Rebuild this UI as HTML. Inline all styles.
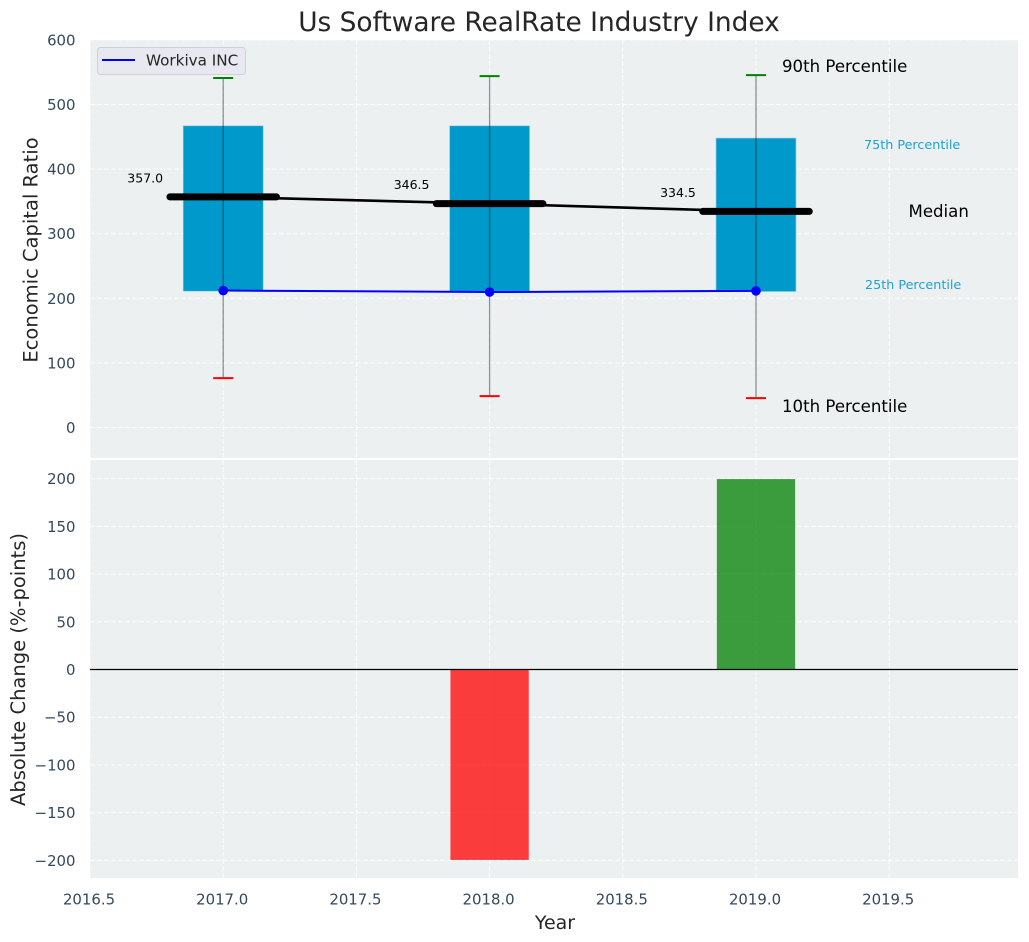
<!DOCTYPE html>
<html lang="en">
<head>
<meta charset="utf-8">
<title>Us Software RealRate Industry Index</title>
<style>
html,body{margin:0;padding:0;background:#fff;width:1029px;height:942px;overflow:hidden}
svg{display:block;font-family:"DejaVu Sans","Liberation Sans",sans-serif}
</style>
</head>
<body>
<svg id="chart" xmlns="http://www.w3.org/2000/svg" width="1029" height="942" viewBox="0 0 1029 942">
  <rect x="90" y="40" width="928" height="418" fill="#ecf0f1"/>
  <rect x="90" y="460" width="928" height="418" fill="#ecf0f1"/>
  <g id="grid"></g>
  <g id="marks"></g>
  <g id="ticks"></g>
  <text x="539" y="31" font-size="26.4" fill="#262626" text-anchor="middle">Us Software RealRate Industry Index</text>
  <text transform="translate(37.5 250) rotate(-90)" font-size="19.5" fill="#262626" text-anchor="middle">Economic Capital Ratio</text>
  <text transform="translate(25 669.500) rotate(-90)" font-size="19.5" fill="#262626" text-anchor="middle">Absolute Change (%-points)</text>
  <text x="555" y="929" font-size="19" fill="#262626" text-anchor="middle">Year</text>
  <text x="782" y="72" font-size="16.6" fill="#000">90th Percentile</text>
  <text x="864" y="149" font-size="12.75" fill="#1ba3d4">75th Percentile</text>
  <text x="908.500" y="217" font-size="16.6" fill="#000">Median</text>
  <text x="865" y="289" font-size="12.75" fill="#1ba3d4">25th Percentile</text>
  <text x="782" y="412" font-size="16.6" fill="#000">10th Percentile</text>
  <g>
    <rect x="97.500" y="47.500" width="148" height="27" rx="3" fill="#e8e9f0" stroke="#cfd1d6" stroke-width="1"/>
    <line x1="102" y1="60" x2="135" y2="60" stroke="#0000ff" stroke-width="2"/>
    <text x="146" y="65.500" font-size="15.2" fill="#262626">Workiva INC</text>
  </g>
</svg>
<script>
// Chart data
const years = [2017, 2018, 2019];
const p90 = [541, 544, 545.5];
const p75 = [467, 467, 448];
const median = [357.0, 346.5, 334.5];
const p25 = [211, 210, 210.5];
const p10 = [76.5, 48.5, 45.5];
const workiva = [212, 209.7, 211.5];
const absoluteChange = [0, -199.5, 199.5];
const xTicks = [2016.5, 2017.0, 2017.5, 2018.0, 2018.5, 2019.0, 2019.5];
const topYTicks = [0, 100, 200, 300, 400, 500, 600];
const bottomYTicks = [-200, -150, -100, -50, 0, 50, 100, 150, 200];

// Axis functions
const xScale = v => 223.2 + (v - 2017) * 266.4;
const topY = v => 427.5 - v * 0.646;
const bottomY = v => 669.5 - v * 0.9545;

const NS = 'http://www.w3.org/2000/svg';
const gridG = document.getElementById('grid');
const marksG = document.getElementById('marks');
const ticksG = document.getElementById('ticks');
function make(parent, tag, props, text) {
  const el = document.createElementNS(NS, tag);
  for (const k in props) el.setAttribute(k, props[k]);
  if (text !== undefined) el.textContent = text;
  parent.appendChild(el);
  return el;
}
const gridStyle = {stroke: '#ffffff', 'stroke-width': 1, 'stroke-dasharray': '5 2', opacity: 0.85};
const fmtMinus = v => String(v).replace('-', '\u2212');

// Grid and tick labels
xTicks.forEach(t => {
  const x = xScale(t);
  let el = make(gridG, 'line', Object.assign({x1: x, x2: x, y1: 40, y2: 458}, gridStyle));
  
  
  el = make(gridG, 'line', Object.assign({x1: x, x2: x, y1: 460, y2: 878}, gridStyle));
  
  
  el = make(ticksG, 'text', {x: x - 1, y: 904.5, 'font-size': 14.9, fill: '#34495e', 'text-anchor': 'middle'}, t.toFixed(1));
  
  
});
topYTicks.forEach(t => {
  const y = topY(t);
  let el = make(gridG, 'line', Object.assign({x1: 90, x2: 1018, y1: y, y2: y}, gridStyle));
  
  
  el = make(ticksG, 'text', {x: 75.5, y: y + 5.5, 'font-size': 14.9, fill: '#34495e', 'text-anchor': 'end'}, fmtMinus(t));
  
  
});
bottomYTicks.forEach(t => {
  const y = bottomY(t);
  let el = make(gridG, 'line', Object.assign({x1: 90, x2: 1018, y1: y, y2: y}, gridStyle));
  
  
  el = make(ticksG, 'text', {x: 75.5, y: y + 5.5, 'font-size': 14.9, fill: '#34495e', 'text-anchor': 'end'}, fmtMinus(t));
  
  
});

// Interquartile bars
const boxHalf = 0.15;
years.forEach((yr, i) => {
  const el = make(marksG, 'rect', {
    x: xScale(yr - boxHalf), width: xScale(yr + boxHalf) - xScale(yr - boxHalf),
    y: topY(p75[i]), height: topY(p25[i]) - topY(p75[i]),
    fill: '#0099cc', stroke: '#8fcbe3', 'stroke-width': 0.6
  });
  
  
});

// Whiskers and caps
years.forEach((yr, i) => {
  const x = xScale(yr);
  let el = make(marksG, 'line', {x1: x, x2: x, y1: topY(p90[i]), y2: topY(p10[i]), stroke: '#000', 'stroke-opacity': 0.42, 'stroke-width': 1.3});
  
  
  el = make(marksG, 'line', {x1: x - 10, x2: x + 10, y1: topY(p90[i]), y2: topY(p90[i]), stroke: '#008000', 'stroke-width': 2});
  
  
  el = make(marksG, 'line', {x1: x - 10, x2: x + 10, y1: topY(p10[i]), y2: topY(p10[i]), stroke: '#ff0000', 'stroke-width': 2});
  
  
});

// Median trend line
const medianLine = make(marksG, 'polyline', {
  points: years.map((yr, i) => xScale(yr) + ',' + topY(median[i])).join(' '),
  fill: 'none', stroke: '#000', 'stroke-width': 2.6
});



// Median segments and labels
const medianHalf = 0.2;
years.forEach((yr, i) => {
  let el = make(marksG, 'line', {
    x1: xScale(yr - medianHalf), x2: xScale(yr + medianHalf),
    y1: topY(median[i]), y2: topY(median[i]),
    stroke: '#000', 'stroke-width': 7, 'stroke-linecap': 'round'
  });
  
  
  el = make(marksG, 'text', {x: xScale(yr) - 78, y: topY(median[i]) - 14.5, 'font-size': 12.5, fill: '#000', 'text-anchor': 'middle'}, median[i].toFixed(1));
  
  
});

// Company line
const companyLine = make(marksG, 'polyline', {
  points: years.map((yr, i) => xScale(yr) + ',' + topY(workiva[i])).join(' '),
  fill: 'none', stroke: '#0000ff', 'stroke-width': 2
});


years.forEach((yr, i) => {
  const el = make(marksG, 'circle', {cx: xScale(yr), cy: topY(workiva[i]), r: 4.8, fill: '#0000ff'});
  
  
});

// Absolute change bars
const changeHalf = 0.147;
years.forEach((yr, i) => {
  const v = absoluteChange[i];
  const yTop = Math.min(bottomY(v), bottomY(0));
  const h = Math.abs(bottomY(v) - bottomY(0));
  const el = make(marksG, 'rect', {
    x: xScale(yr - changeHalf), width: xScale(yr + changeHalf) - xScale(yr - changeHalf),
    y: yTop, height: h,
    fill: v >= 0 ? '#008000' : '#ff0000', 'fill-opacity': 0.75
  });
  
  
});

// Zero baseline
const zeroLine = make(marksG, 'line', {x1: 90, x2: 1018, y1: bottomY(0), y2: bottomY(0), stroke: '#000', 'stroke-width': 1.3});


</script>
</body>
</html>
